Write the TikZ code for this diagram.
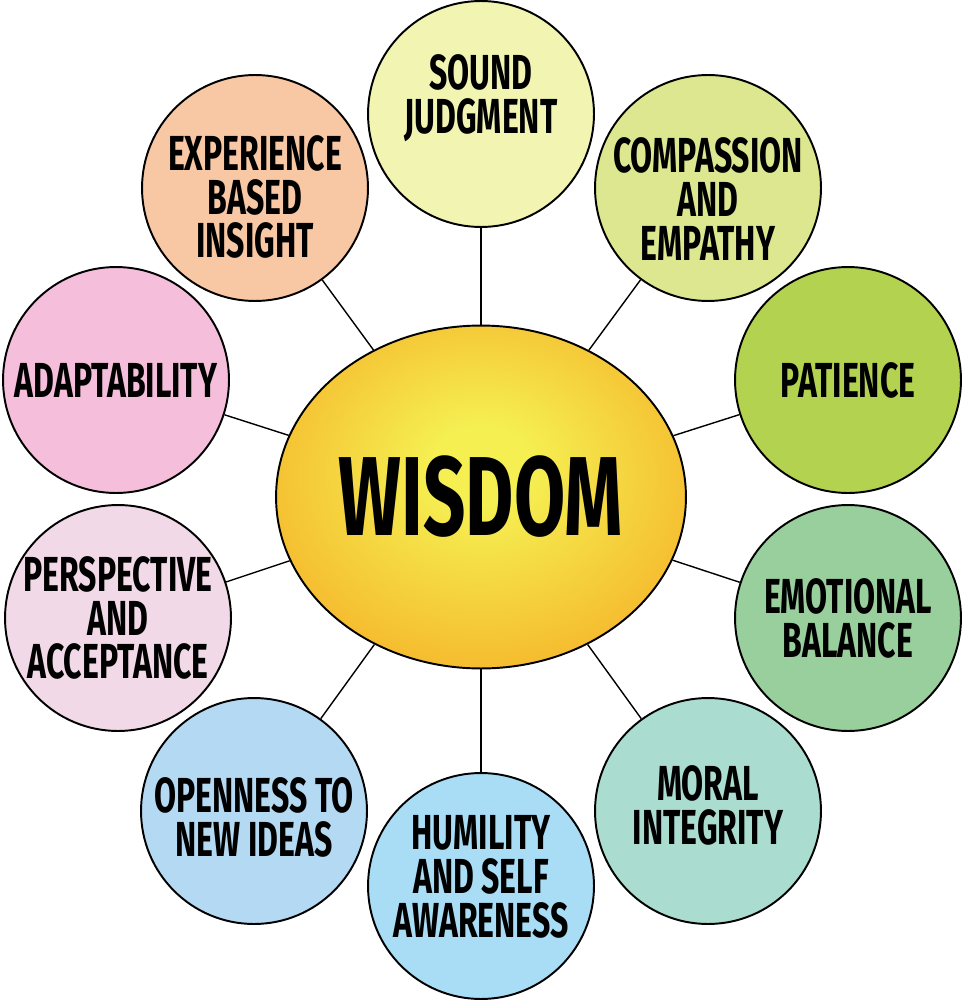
\documentclass[tikz,border=0pt]{standalone}
\usepackage{fontspec}
\usepackage{xcolor}
\usepackage{tikz}
\usetikzlibrary{positioning, shapes.geometric}
\newfontfamily\handfont[FakeStretch=0.65]{Fira Sans}
\newfontfamily\bighandfont[FakeStretch=0.66]{Fira Sans}
\definecolor{wsYellow}{HTML}{F5EF52}
\definecolor{wsOrange}{HTML}{F5A41F}
\definecolor{wsSound}{HTML}{F2F4B2}
\definecolor{wsExper}{HTML}{F8C7A3}
\definecolor{wsCompa}{HTML}{DDE78F}
\definecolor{wsAdapt}{HTML}{F5BFDC}
\definecolor{wsPatie}{HTML}{B3D24F}
\definecolor{wsPersp}{HTML}{F1D9E8}
\definecolor{wsEmoti}{HTML}{98CF9C}
\definecolor{wsOpenn}{HTML}{B3D9F3}
\definecolor{wsMoral}{HTML}{AADCCF}
\definecolor{wsHumil}{HTML}{A9DDF6}
\pgfdeclareradialshading{wisdomglow}{\pgfpoint{0bp}{5bp}}{%
  color(0bp)=(wsYellow); color(6bp)=(wsYellow); color(38bp)=(wsOrange); color(60bp)=(wsOrange)}
\tikzset{
  trait/.style={
    circle, draw=black, line width=1.1pt,
    fill=#1,
    minimum size=4.52cm, inner sep=0pt,
    align=center,
    font=\handfont\bfseries\fontsize{28}{25}\selectfont
  },
  traittext/.style={
    align=center, inner sep=0pt,
    font=\handfont\bfseries\fontsize{28}{25}\selectfont
  },
  core/.style={
    ellipse, draw=black, line width=1.1pt,
    shading=wisdomglow, inner sep=0pt,
    minimum width=8.2cm, minimum height=6.86cm,
    font=\bighandfont\bfseries\fontsize{64}{64}\selectfont
  },
  spoke/.style={black, line width=0.8pt}
}
\begin{document}
\begin{tikzpicture}[x=0.02cm, y=-0.02cm]
  \useasboundingbox (0,0) rectangle (963,1000);
  \node[core] (wisdom) at (481,497) {WISDOM};
  \node[trait=wsSound] (sound) at (481,114) {};
  \node[traittext] (soundtext) at (481,98) {SOUND\\JUDGMENT};
  \node[trait=wsExper] (exper) at (255,188) {};
  \node[traittext] (expertext) at (255,197) {EXPERIENCE\\BASED\\INSIGHT};
  \node[trait=wsCompa] (compa) at (708,188) {};
  \node[traittext] (compatext) at (708,199) {COMPASSION\\AND\\EMPATHY};
  \node[trait=wsAdapt] (adapt) at (116,380) {ADAPTABILITY};
  \node[trait=wsPatie] (patie) at (848,380) {PATIENCE};
  \node[trait=wsPersp] (persp) at (118,618) {PERSPECTIVE\\AND\\ACCEPTANCE};
  \node[trait=wsEmoti] (emoti) at (848,618) {EMOTIONAL\\BALANCE};
  \node[trait=wsOpenn] (openn) at (254,811) {};
  \node[traittext] (openntext) at (254,817) {OPENNESS TO\\NEW IDEAS};
  \node[trait=wsMoral] (moral) at (708,811) {};
  \node[traittext] (moraltext) at (708,805) {MORAL\\INTEGRITY};
  \node[trait=wsHumil] (humil) at (481,886) {};
  \node[traittext] (humiltext) at (481,877) {HUMILITY\\AND SELF\\AWARENESS};
  % spokes from the core to every trait
  \foreach \t in {sound, exper, compa, adapt, patie, persp, emoti, openn, moral, humil}
    \draw[spoke] (wisdom) -- (\t);
\end{tikzpicture}
\end{document}
